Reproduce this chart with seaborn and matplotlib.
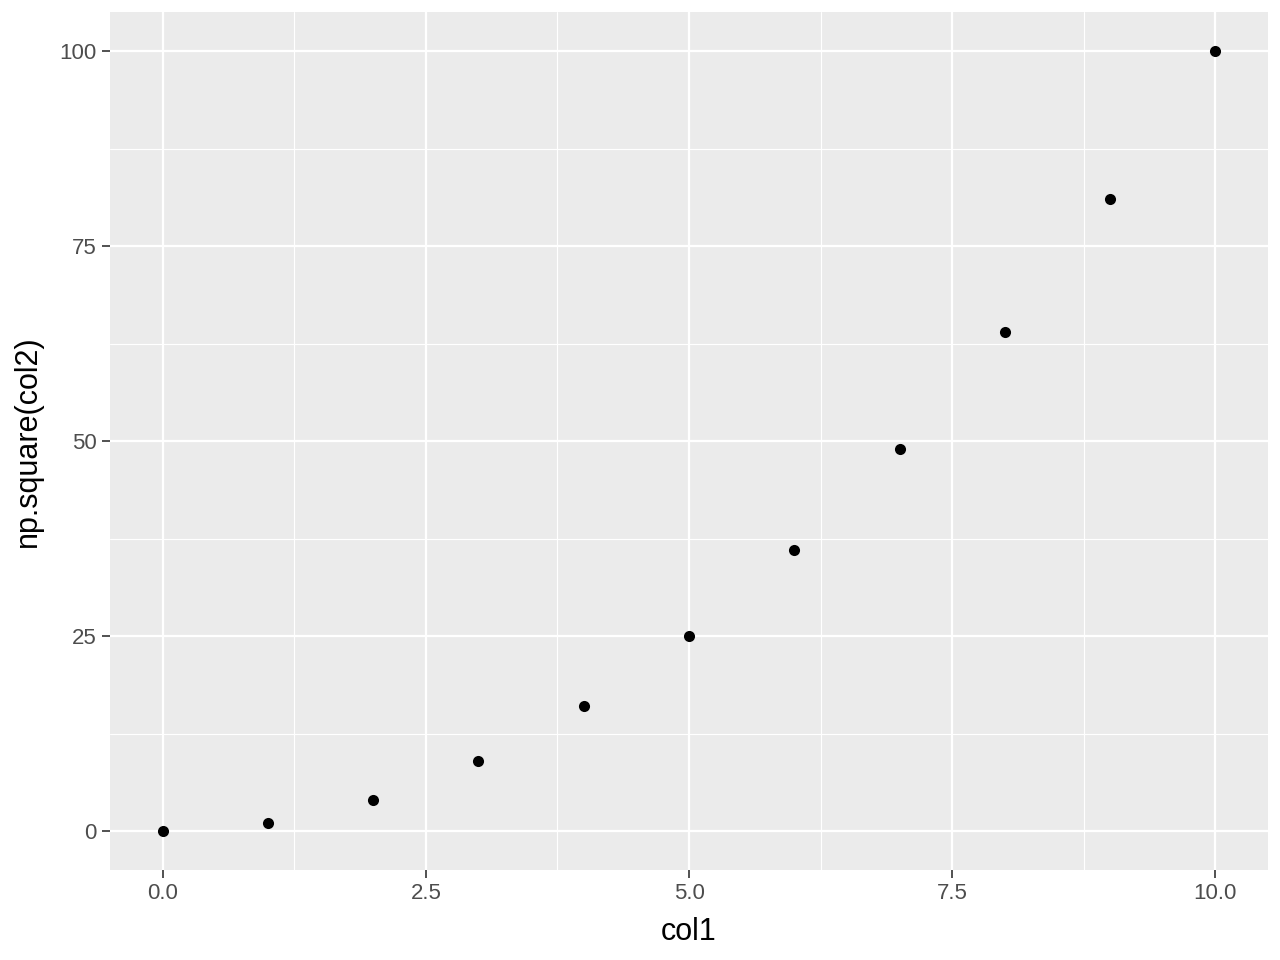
import numpy as np
import pandas as pd
import seaborn as sns
import matplotlib
matplotlib.use("Agg")
import matplotlib.pyplot as plt
from matplotlib.ticker import MultipleLocator

col1 = [0, 1, 2, 3, 4, 5, 6, 7, 8, 9, 10]
col2_sq = [0, 1, 4, 9, 16, 25, 36, 49, 64, 81, 100]

x_ticks = [0.0, 2.5, 5.0, 7.5, 10.0]
x_labels = ["0.0", "2.5", "5.0", "7.5", "10.0"]
y_ticks = [0, 25, 50, 75, 100]
y_labels = ["0", "25", "50", "75", "100"]


def main():
    df = pd.DataFrame({"col1": col1, "np.square(col2)": col2_sq})

    sns.set_theme(style="darkgrid", rc={
        "axes.facecolor": "#EBEBEB",
        "grid.color": "white",
        "axes.edgecolor": "#EBEBEB",
    })
    plt.rcParams["font.family"] = ["Liberation Sans", "DejaVu Sans"]

    fig, ax = plt.subplots(figsize=(6.4, 4.8), dpi=200)
    fig.subplots_adjust(left=0.086, right=0.9906, top=0.9875, bottom=0.0937)

    sns.scatterplot(data=df, x="col1", y="np.square(col2)", ax=ax,
                    color="black", s=16, linewidth=0, zorder=3)

    ax.set_xlim(-0.5, 10.5)
    ax.set_ylim(-5, 105)
    ax.set_xticks(x_ticks)
    ax.set_xticklabels(x_labels)
    ax.set_yticks(y_ticks)
    ax.set_yticklabels(y_labels)
    ax.xaxis.set_minor_locator(MultipleLocator(1.25))
    ax.yaxis.set_minor_locator(MultipleLocator(12.5))

    ax.grid(which="major", color="white", linewidth=0.8)
    ax.grid(which="minor", color="white", linewidth=0.4)
    ax.tick_params(which="major", length=2.8, width=0.6, color="#333333",
                   labelsize=8, labelcolor="#4D4D4D", pad=2, bottom=True, left=True)
    ax.tick_params(which="minor", length=0)
    for s in ax.spines.values():
        s.set_visible(False)

    ax.set_xlabel("col1", fontsize=11, color="black", labelpad=4.5)
    ax.set_ylabel("np.square(col2)", fontsize=11, color="black", labelpad=6)

    fig.savefig("out.png", dpi=200, facecolor="white")


if __name__ == "__main__":
    main()
